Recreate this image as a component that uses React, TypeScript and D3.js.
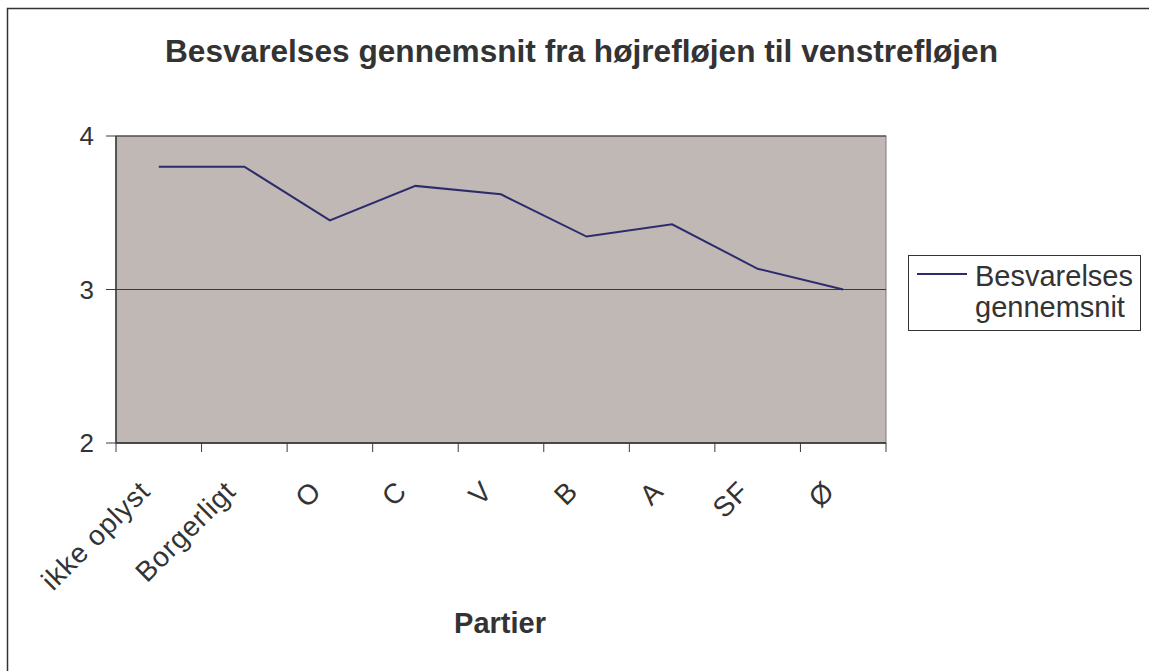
import React from "react";
import * as d3 from "d3";

const WIDTH = 1149;
const HEIGHT = 671;
const PLOT = { left: 116, right: 886, top: 136, bottom: 443 };

const categories = ["ikke oplyst", "Borgerligt", "O", "C", "V", "B", "A", "SF", "Ø"];
const averages = [3.8, 3.8, 3.45, 3.675, 3.62, 3.345, 3.425, 3.135, 3.0];
const yTicks = [2, 3, 4];

const TITLE = "Besvarelses gennemsnit fra højrefløjen til venstrefløjen";
const X_TITLE = "Partier";
const LEGEND = ["Besvarelses", "gennemsnit"];

const FONT = "'Liberation Sans', Arial, sans-serif";
const TEXT = "#333";

const App = () => {
  const xScale = d3
    .scaleBand()
    .domain(categories)
    .range([PLOT.left, PLOT.right])
    .padding(0);

  const yScale = d3
    .scaleLinear()
    .domain([2, 4])
    .range([PLOT.bottom, PLOT.top]);

  const line = d3
    .line<number>()
    .x((_, i) => (xScale(categories[i]) ?? 0) + xScale.bandwidth() / 2)
    .y((d) => yScale(d));

  const tickXs = categories.map((c) => xScale(c) ?? 0).concat([PLOT.right]);

  return (
    <svg
      width={WIDTH}
      height={HEIGHT}
      style={{ position: "absolute", left: 0, top: 0, background: "#fff", overflow: "hidden" }}
      fontFamily={FONT}
    >
      {/* outer chart frame, right and bottom edges fall outside the picture */}
      <rect x={7.5} y={8.5} width={1200} height={700} fill="#fff" stroke="#333" strokeWidth={1.5} />

      <text
        x={581.5}
        y={62}
        textAnchor="middle"
        fontSize={32}
        fontWeight="bold"
        fill={TEXT}
        textLength={833}
        lengthAdjust="spacingAndGlyphs"
      >
        {TITLE}
      </text>

      {/* plot area */}
      <rect
        x={PLOT.left}
        y={PLOT.top}
        width={PLOT.right - PLOT.left}
        height={PLOT.bottom - PLOT.top}
        fill="#c0b8b5"
        stroke="#7a7a7a"
        strokeWidth={1}
      />

      {yTicks.map((t) => (
        <g key={t}>
          <line x1={PLOT.left} x2={PLOT.right} y1={yScale(t)} y2={yScale(t)} stroke="#3a3a3a" strokeWidth={1.2} />
          <line x1={PLOT.left - 10} x2={PLOT.left} y1={yScale(t)} y2={yScale(t)} stroke="#3a3a3a" strokeWidth={1} />
          <text x={94} y={yScale(t)} dy="0.36em" textAnchor="end" fontSize={26} fill={TEXT}>
            {t}
          </text>
        </g>
      ))}

      <line x1={PLOT.left} x2={PLOT.left} y1={PLOT.top} y2={PLOT.bottom} stroke="#3a3a3a" strokeWidth={1.5} />
      <line x1={PLOT.left} x2={PLOT.right} y1={PLOT.bottom} y2={PLOT.bottom} stroke="#3a3a3a" strokeWidth={1.5} />

      {tickXs.map((x, i) => (
        <line key={i} x1={x} x2={x} y1={PLOT.bottom} y2={PLOT.bottom + 9} stroke="#3a3a3a" strokeWidth={1} />
      ))}

      {categories.map((c) => {
        const cx = (xScale(c) ?? 0) + xScale.bandwidth() / 2;
        return (
          <text
            key={c}
            transform={`translate(${cx - 7},493) rotate(-45)`}
            textAnchor="end"
            fontSize={28}
            letterSpacing={0.8}
            fill={TEXT}
          >
            {c}
          </text>
        );
      })}

      <path d={line(averages) ?? ""} fill="none" stroke="#2c2c6c" strokeWidth={2} />

      <text x={500} y={633} textAnchor="middle" fontSize={29} fontWeight="bold" fill={TEXT}>
        {X_TITLE}
      </text>

      {/* legend */}
      <rect x={908.5} y={255.5} width={232} height={75} fill="#fff" stroke="#333" strokeWidth={1} />
      <line x1={917} x2={967} y1={274} y2={274} stroke="#2c2c6c" strokeWidth={2} />
      {LEGEND.map((t, i) => (
        <text key={t} x={975} y={286 + i * 31} fontSize={29} fill={TEXT}>
          {t}
        </text>
      ))}
    </svg>
  );
};

export default App;
